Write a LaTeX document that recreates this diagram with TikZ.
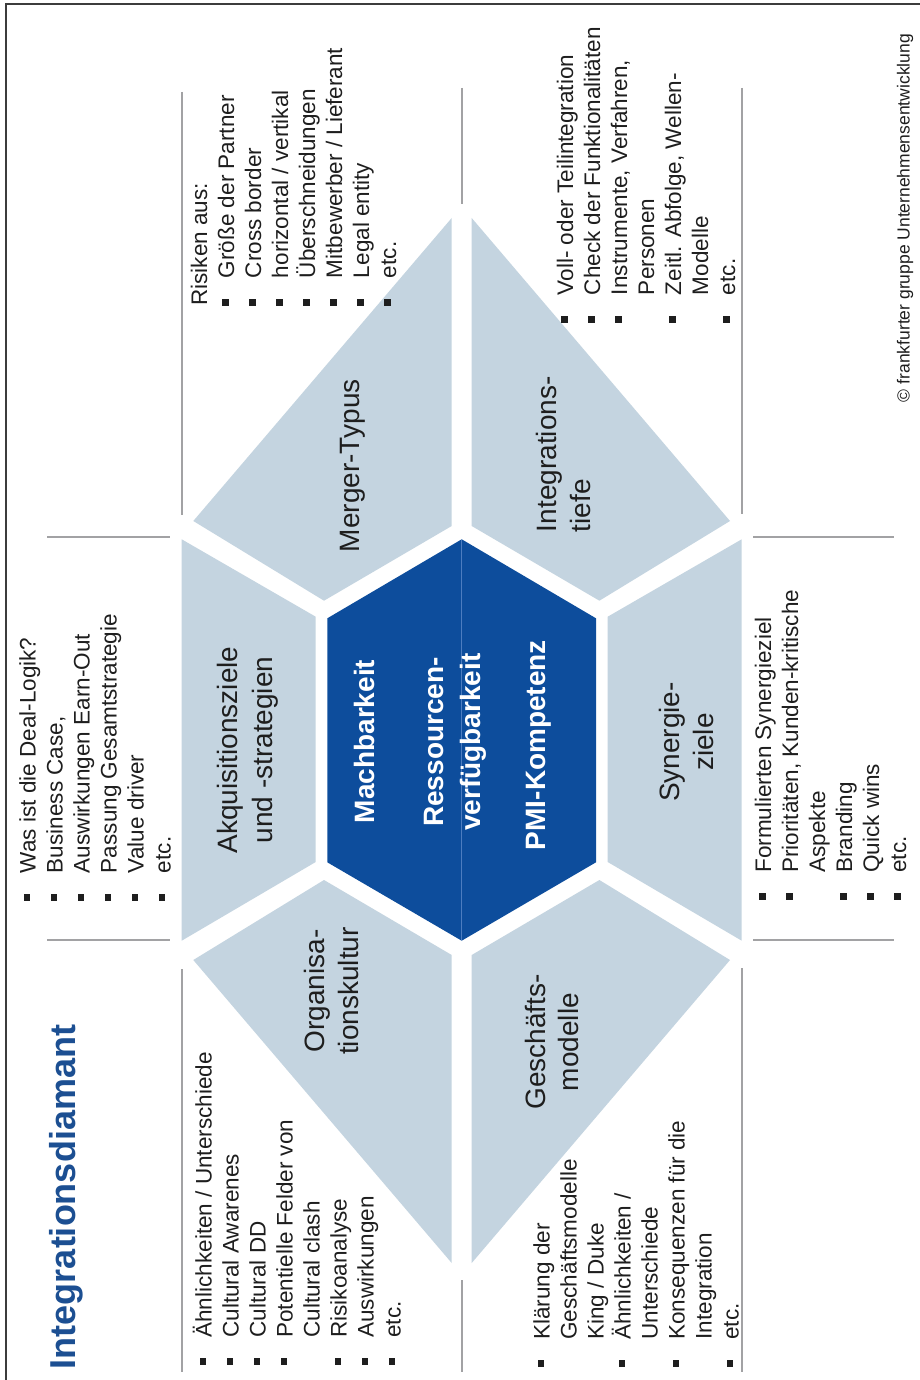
\documentclass[tikz,border=0pt]{standalone}
\usepackage{fontspec}
\setmainfont{Liberation Sans}

\definecolor{panelblue}{HTML}{C4D4E0}
\definecolor{coreblue}{HTML}{0D4D9C}
\definecolor{coreseam}{HTML}{4D7DC0}
\definecolor{titleblue}{HTML}{1C4F92}
\definecolor{guidegray}{HTML}{A2A2A4}
\definecolor{framegray}{HTML}{3C3C3C}
\definecolor{inktext}{HTML}{1E1E1E}

% list helpers: bulleted line, indented continuation line, plain line
\newcommand{\bulletmark}{\makebox[27.5pt][l]{\rule[5.3pt]{6.7pt}{6.7pt}}}
\newcommand{\itm}[1]{\hbox{\bulletmark #1}}
\newcommand{\cnt}[1]{\hbox{\hspace*{27.5pt}#1}}
\newcommand{\pln}[1]{\hbox{#1}}
\newcommand{\listblock}[1]{\vtop{\baselineskip=27pt\lineskiplimit=-100pt\lineskip=0pt #1}}
% centred multi-line label, baseline on its first line
\newcommand{\clines}[2]{\vtop{\baselineskip=#1\lineskiplimit=-100pt\lineskip=0pt\halign{\hfil##\hfil\cr#2\crcr}}}
\newcommand{\listfont}{\fontsize{22.5}{27}\selectfont}
\newcommand{\labelfont}{\fontsize{28}{34}\selectfont}

\begin{document}
\begin{tikzpicture}[x=1pt,y=-1pt,
  panel/.style={fill=panelblue},
  core/.style={fill=coreblue},
  guide/.style={draw=guidegray,line width=1.8pt},
  vtext/.style={rotate=90,inner sep=0pt,outer sep=0pt,text=inktext},
  corelabel/.style={vtext,text=white,font=\fontsize{28}{34}\selectfont\bfseries}]
\useasboundingbox (0,0) rectangle (919,1380);
\fill[white] (0,0) rectangle (919,1380);

% outer frame (left and top edges)
\draw[framegray,line width=2pt] (6,1390) -- (6,4) -- (930,4);

% central hexagon
\fill[core] (461.7,539.3) -- (596,618.3) -- (596,862.3) -- (461.7,940.7)
  -- (327.3,862.3) -- (327.3,618.3) -- cycle;
\draw[coreseam,line width=0.7pt] (461.7,540) -- (461.7,940);

% surrounding panels
\fill[panel] (181.7,539.3) -- (315.7,616.7) -- (315.7,862) -- (181.7,940.7) -- cycle;
\fill[panel] (741.7,539.3) -- (607.7,616.7) -- (607.7,862) -- (741.7,940.7) -- cycle;
\fill[panel] (193.3,521) -- (324,600.7) -- (451.7,526) -- (451.7,218) -- cycle;
\fill[panel] (730,521) -- (599.4,600.7) -- (471.7,526) -- (471.7,218) -- cycle;
\fill[panel] (193.3,960) -- (324,880) -- (451.7,955) -- (451.7,1263) -- cycle;
\fill[panel] (730,960) -- (599.4,880) -- (471.7,955) -- (471.7,1263) -- cycle;

% separator rules
\draw[guide] (47,536.7) -- (170,536.7);
\draw[guide] (47,940) -- (170,940);
\draw[guide] (181.7,92) -- (181.7,515);
\draw[guide] (181.7,969) -- (181.7,1372);
\draw[guide] (462,88) -- (462,204);
\draw[guide] (462,1280) -- (462,1372);
\draw[guide] (741.7,88) -- (741.7,514);
\draw[guide] (741.7,968) -- (741.7,1372);
\draw[guide] (753,536.7) -- (894,536.7);
\draw[guide] (753,940) -- (894,940);

% title and credit
\node[vtext,anchor=base west,text=titleblue,font=\fontsize{36}{40}\selectfont\bfseries]
  (title) at (75,1369) {Integrationsdiamant};
\node[vtext,anchor=base west,font=\fontsize{17.5}{20}\selectfont]
  (credit) at (909.5,402) {© frankfurter gruppe Unternehmensentwicklung};

% panel labels
\node[vtext,anchor=base] (akqlabel) at (237,750)
  {\labelfont\clines{35pt}{Akquisitionsziele\cr und -strategien}};
\node[vtext,anchor=base west] (mergerlabel) at (359,552) {\labelfont Merger-Typus};
\node[vtext,anchor=base] (orglabel) at (324,991)
  {\labelfont\clines{34.5pt}{Organisa-\cr tionskultur}};
\node[vtext,anchor=base west] (integlabel) at (556.7,532)
  {\labelfont\vtop{\baselineskip=33.5pt\lineskiplimit=-100pt\hbox{Integrations-}\hbox{tiefe}}};
\node[vtext,anchor=base] (geschlabel) at (545,1042)
  {\labelfont\clines{33pt}{Geschäfts-\cr modelle}};
\node[vtext,anchor=base] (synlabel) at (679,742)
  {\labelfont\clines{34.5pt}{Synergie-\cr ziele}};

% core labels
\node[corelabel,anchor=base] (machbar) at (374,741.5) {Machbarkeit};
\node[corelabel,anchor=base] (ressourcen) at (443,742)
  {\clines{37pt}{Ressourcen-\cr verfügbarkeit}};
\node[corelabel,anchor=base] (pmi) at (545,745) {PMI-Kompetenz};

% lists
\node[vtext,anchor=base west] (listakq) at (35.5,900.5) {\listfont\listblock{%
  \itm{Was ist die Deal-Logik?}
  \itm{Business Case,}
  \itm{Auswirkungen Earn-Out}
  \itm{Passung Gesamtstrategie}
  \itm{Value driver}
  \itm{etc.}}};

\node[vtext,anchor=base west] (listmerger) at (207,305.5) {\listfont\listblock{%
  \pln{Risiken aus:}
  \itm{Größe der Partner}
  \itm{Cross border}
  \itm{horizontal / vertikal}
  \itm{Überschneidungen}
  \itm{Mitbewerber / Lieferant}
  \itm{Legal entity}
  \itm{etc.}}};

\node[vtext,anchor=base west] (listinteg) at (573,322.5) {\listfont\listblock{%
  \itm{Voll- oder Teilintegration}
  \itm{Check der Funktionalitäten}
  \itm{Instrumente, Verfahren,}
  \cnt{Personen}
  \itm{Zeitl. Abfolge, Wellen-}
  \cnt{Modelle}
  \itm{etc.}}};

\node[vtext,anchor=base west] (listorg) at (211.5,1365) {\listfont\listblock{%
  \itm{Ähnlichkeiten / Unterschiede}
  \itm{Cultural Awarenes}
  \itm{Cultural DD}
  \itm{Potentielle Felder von}
  \cnt{Cultural clash}
  \itm{Risikoanalyse}
  \itm{Auswirkungen}
  \itm{etc.}}};

\node[vtext,anchor=base west] (listgesch) at (549.5,1367) {\listfont\listblock{%
  \itm{Klärung der}
  \cnt{Geschäftsmodelle}
  \cnt{King / Duke}
  \itm{Ähnlichkeiten /}
  \cnt{Unterschiede}
  \itm{Konsequenzen für die}
  \cnt{Integration}
  \itm{etc.}}};

\node[vtext,anchor=base west] (listsyn) at (771,900) {\listfont\listblock{%
  \itm{Formulierten Synergieziel}
  \itm{Prioritäten, Kunden-kritische}
  \cnt{Aspekte}
  \itm{Branding}
  \itm{Quick wins}
  \itm{etc.}}};
\end{tikzpicture}
\end{document}
